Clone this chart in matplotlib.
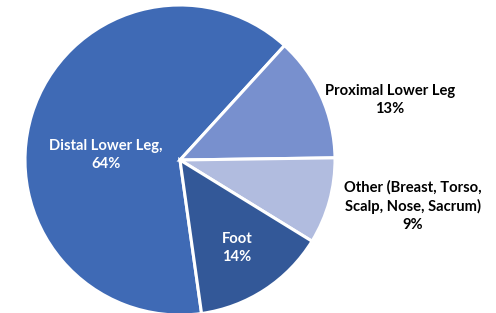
import matplotlib
matplotlib.use("Agg")
import matplotlib.pyplot as plt

categories = ["Distal Lower Leg", "Proximal Lower Leg", "Other (Breast, Torso,\nScalp, Nose, Sacrum)", "Foot"]
values = [64, 13, 9, 14]
colors = ["#3F6AB5", "#7890CE", "#B1BCDF", "#335898"]

W, H = 496, 313
fig = plt.figure(figsize=(W / 100, H / 100), dpi=100)
ax = fig.add_axes([0, 0, 1, 1])

cx, cy, r = 180, H - 160, 155
wedges, _ = ax.pie(values, colors=colors, startangle=278, counterclock=False,
                   center=(cx, cy), radius=r, frame=True,
                   wedgeprops=dict(edgecolor="white", linewidth=2.2))
ax.set_xlim(0, W)
ax.set_ylim(0, H)
ax.set_aspect("equal")
ax.axis("off")

font = dict(family=["Lato", "DejaVu Sans"], fontsize=10.6, fontweight="bold",
            ha="center", va="center", linespacing=1.38)

label_pos = [(106, 155, "white", f"{categories[0]},\n{values[0]}%"),
             (390, 100, "black", f"{categories[1]}\n{values[1]}%"),
             (413, 206, "black", f"{categories[2]}\n{values[2]}%"),
             (237, 248, "white", f"{categories[3]}\n{values[3]}%")]
for x, y, c, t in label_pos:
    ax.text(x, H - y, t, color=c, **font)

fig.savefig("out.png", dpi=100)
